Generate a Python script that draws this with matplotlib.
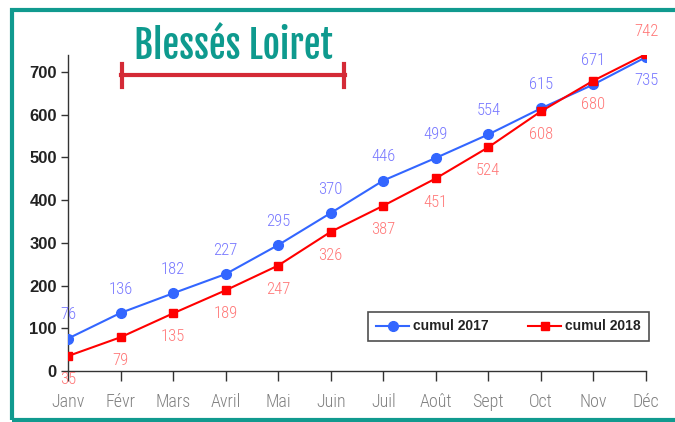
import matplotlib
matplotlib.use("Agg")
import matplotlib.pyplot as plt
from matplotlib.lines import Line2D
from matplotlib.patches import Rectangle

months = ["Janv", "Févr", "Mars", "Avril", "Mai", "Juin", "Juil", "Août", "Sept", "Oct", "Nov", "Déc"]
cumul_2017 = [76, 136, 182, 227, 295, 370, 446, 499, 554, 615, 671, 735]
cumul_2018 = [35, 79, 135, 189, 247, 326, 387, 451, 524, 608, 680, 742]
yticks = [0, 100, 200, 300, 400, 500, 600, 700]

W, H = 675, 422
fig = plt.figure(figsize=(W / 100, H / 100), dpi=100)
fig.patch.set_facecolor("white")

narrow = ["Roboto Condensed", "DejaVu Sans"]
arial = ["Liberation Sans", "DejaVu Sans"]
titlefont = ["Fjalla One", "Roboto Condensed", "DejaVu Sans"]

ax = fig.add_axes([68 / W, 1 - 371 / H, (646 - 68) / W, (371 - 55) / H])
x = list(range(len(months)))
ax.plot(x, cumul_2017, color="#3366ff", lw=1.5, marker="o", ms=7, label="cumul 2017", zorder=3)
ax.plot(x, cumul_2018, color="#ff0000", lw=1.5, marker="s", ms=6, label="cumul 2018", zorder=3)

ax.set_xlim(0, 11)
ax.set_ylim(0, 740)
ax.set_yticks(yticks)
ax.set_xticks(x)
ax.set_xticklabels(months, fontfamily=narrow, fontweight=300, fontsize=13, color="#808080")
ax.set_yticklabels([str(v) for v in yticks], fontfamily=arial,
                   fontweight="bold", fontsize=12, color="#222222")
for s in ["top", "right"]:
    ax.spines[s].set_visible(False)
for s in ["left", "bottom"]:
    ax.spines[s].set_color("#333333")
    ax.spines[s].set_linewidth(1)
ax.tick_params(axis="x", length=7, width=1, color="#333333", pad=9)
ax.tick_params(axis="y", length=5, width=1, color="#333333", pad=3)

# value labels
for i, v in enumerate(cumul_2017):
    off = -17 if i == len(cumul_2017) - 1 else 17
    ax.annotate(str(v), (i, v), xytext=(0, off), textcoords="offset points",
                ha="center", va="center", fontsize=12, fontfamily=narrow, fontweight=300,
                color="#7777ff", annotation_clip=False, zorder=4)
for i, v in enumerate(cumul_2018):
    off = 16 if i == len(cumul_2018) - 1 else -17
    ax.annotate(str(v), (i, v), xytext=(0, off), textcoords="offset points",
                ha="center", va="center", fontsize=12, fontfamily=narrow, fontweight=300,
                color="#ff7777", annotation_clip=False, zorder=4)

leg = ax.legend(loc="center", bbox_to_anchor=((365 + 652) / 2 / W, 1 - 326.5 / H),
                bbox_transform=fig.transFigure, ncol=2, frameon=True, fancybox=False,
                prop={"family": arial, "weight": "bold", "size": 10},
                handlelength=2.4, columnspacing=2.8, borderpad=0.55, handletextpad=0.3,
                borderaxespad=0)
leg.get_frame().set_edgecolor("#222222")
leg.get_frame().set_linewidth(1.2)
for t in leg.get_texts():
    t.set_color("#222222")

# title and red bar
fig.text(233 / W, 1 - 46 / H, "Blessés Loiret", ha="center", va="center",
         fontsize=27, fontfamily=titlefont, color="#0e9a8e")
red = "#d42a36"
fig.add_artist(Line2D([121 / W, 345 / W], [1 - 75 / H, 1 - 75 / H], color=red, lw=3))
fig.add_artist(Line2D([122 / W, 122 / W], [1 - 64 / H, 1 - 87 / H], color=red, lw=3))
fig.add_artist(Line2D([344 / W, 344 / W], [1 - 64 / H, 1 - 87 / H], color=red, lw=3))

# teal frame
fig.add_artist(Rectangle((12 / W, 1 - 419.5 / H), 700 / W, (419.5 - 10) / H,
                         transform=fig.transFigure, fill=False, edgecolor="#119a8f",
                         lw=3, clip_on=False))

fig.savefig("out.png", dpi=100)
